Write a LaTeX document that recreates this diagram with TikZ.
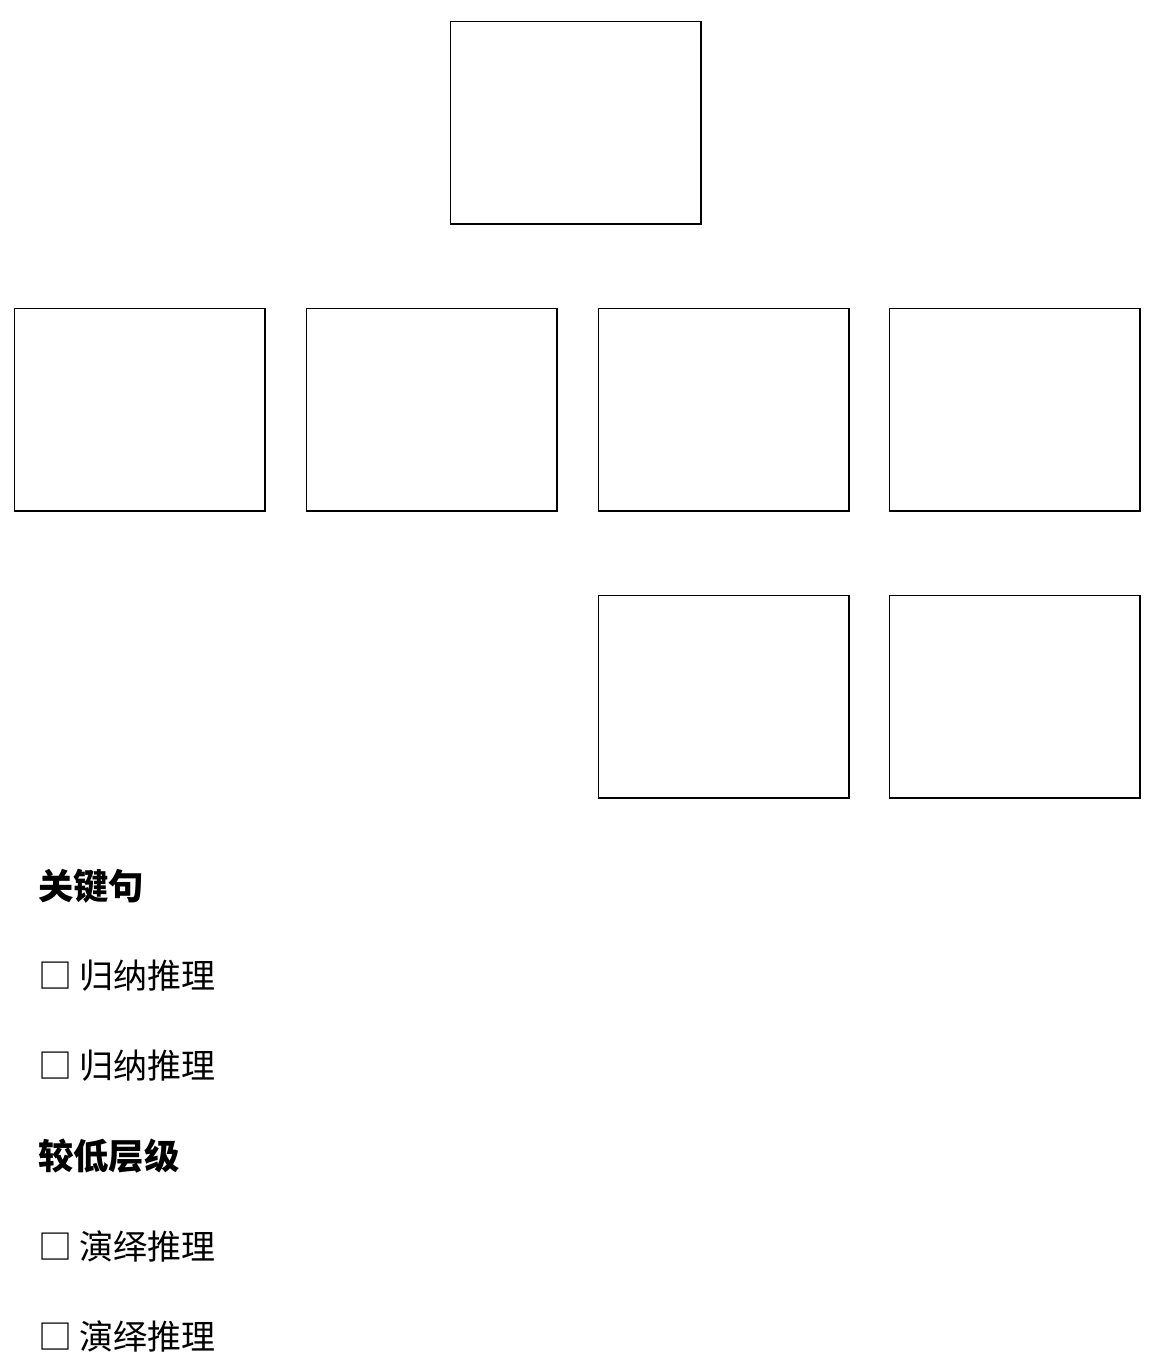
\documentclass[tikz,border=0pt]{standalone}
\usepackage{fontspec}
\newfontfamily\cjk{Noto Sans CJK SC}
\begin{document}
\begin{tikzpicture}[x=0.75pt,y=-0.75pt,
  blank/.style={draw=black,line width=1.3pt,minimum width=188pt,minimum height=152pt,inner sep=0pt,anchor=north west},
  head/.style={anchor=west,inner sep=0pt,font=\cjk\fontsize{26.5pt}{30pt}\selectfont,text=black},
  item/.style={anchor=west,inner sep=0pt,font=\cjk\fontsize{25.5pt}{30pt}\selectfont,text=black}]
\useasboundingbox (0,0) rectangle (1160,1356);
\fill[white] (0,0) rectangle (1160,1356);
\node[blank] (top) at (449.5,20.5) {};
\node[blank] (r1) at (13.5,307.5) {};
\node[blank] (r2) at (305.5,307.5) {};
\node[blank] (r3) at (597.5,307.5) {};
\node[blank] (r4) at (888.5,307.5) {};
\node[blank] (s1) at (597.5,594.5) {};
\node[blank] (s2) at (888.5,594.5) {};
\node[head] (h1) at (38,886) {\textbf{关键句}};
\node[item] (i1) at (38,976) {□ 归纳推理};
\node[item] (i2) at (38,1066) {□ 归纳推理};
\node[head] (h2) at (38,1156) {\textbf{较低层级}};
\node[item] (i3) at (38,1246) {□ 演绎推理};
\node[item] (i4) at (38,1336) {□ 演绎推理};
\end{tikzpicture}
\end{document}
